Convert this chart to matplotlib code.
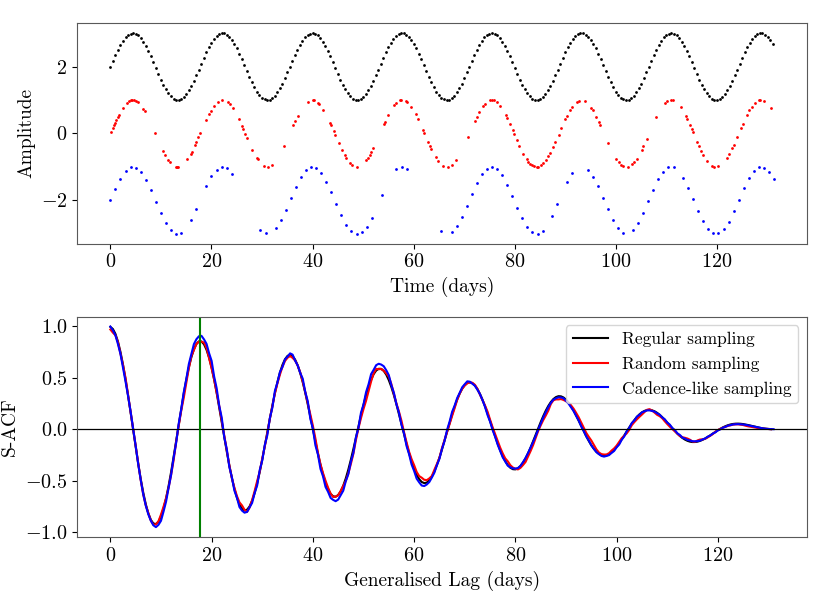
import numpy as np
import matplotlib
matplotlib.use('Agg')
import matplotlib.pyplot as plt

# --- values ---
# sinusoid seen in the top panel
period = 17.75
amplitude = 1.0
offsets = [2.0, 0.0, -2.0]  # regular, random, cadence-like

# regular sampling: every half day
regular_times = np.arange(0.0, 131.01, 0.5)

# random sampling: observation times read from the red points
random_times = np.array([
    0.16, 0.49, 0.69, 0.89, 1.16, 1.49, 1.69, 2.48, 3.34, 3.67, 4.00, 4.33,
    4.66, 4.99, 5.46, 6.52, 6.78, 8.83, 10.42, 10.81, 11.41, 11.81, 12.93,
    13.20, 13.46, 15.24, 15.90, 16.10, 16.77, 17.03, 17.43, 17.82, 18.95,
    19.54, 19.87, 20.54, 21.20, 21.99, 23.18, 23.65, 24.17, 25.36, 25.96,
    26.22, 26.69, 27.02, 28.08, 28.94, 29.13, 30.32, 31.12, 31.98, 34.42,
    36.21, 36.60, 37.07, 39.05, 40.05, 40.38, 41.04, 41.37, 42.16, 43.49,
    43.69, 44.15, 44.48, 45.21, 45.87, 46.33, 46.66, 47.45, 47.85, 48.78,
    50.63, 50.96, 51.29, 51.62, 51.95, 54.07, 54.27, 54.93, 56.05, 56.58,
    57.24, 57.57, 58.43, 58.70, 59.56, 60.42, 60.88, 61.87, 62.07, 62.86,
    63.19, 63.52, 64.38, 64.85, 65.84, 66.83, 67.49, 68.35, 70.67, 72.12,
    72.45, 72.98, 73.78, 74.11, 75.10, 75.43, 75.89, 76.42, 77.08, 78.27,
    78.54, 79.07, 79.60, 79.93, 80.39, 80.92, 81.71, 82.37, 82.70, 83.04,
    83.37, 83.83, 84.36, 84.69, 85.22, 85.68, 86.14, 86.67, 87.00, 87.53,
    88.00, 88.66, 89.19, 89.98, 90.31, 91.00, 91.32, 92.31, 92.63, 93.96,
    95.15, 95.42, 96.14, 96.61, 96.87, 98.46, 100.12, 100.58, 101.04,
    101.44, 102.43, 103.22, 103.56, 104.08, 105.08, 105.41, 106.07, 107.92,
    109.64, 110.17, 110.83, 111.36, 112.82, 113.81, 114.15, 114.61, 115.01,
    115.28, 116.14, 116.47, 116.93, 117.33, 118.12, 119.11, 119.44, 120.24,
    121.96, 122.42, 122.95, 123.28, 123.94, 124.74, 125.07, 125.93, 126.39,
    126.85, 127.51, 128.37, 128.57, 129.23, 130.69,
])

# cadence-like sampling: nightly points with gaps, read from the blue points
cadence_times = np.array([
    0, 1, 2, 3, 4, 5, 6, 7, 8, 9, 10, 11, 12, 13, 14, 16, 17, 19, 20, 21,
    22, 23, 24, 29.7, 30.7, 32.7, 33.7, 34.7, 35.7, 36.7, 37.7, 38.7, 39.7,
    40.7, 41.7, 42.7, 43.7, 44.7, 45.7, 46.7, 47.7, 48.7, 49.7, 50.7, 51.7,
    53.7, 56.6, 57.6, 58.6, 65.5, 67.5, 68.5, 69.5, 70.5, 71.5, 72.5, 73.5,
    74.5, 75.5, 76.5, 77.5, 78.5, 79.5, 80.5, 81.5, 82.5, 83.5, 84.5, 85.5,
    87.4, 88.4, 90.4, 91.4, 94.4, 95.4, 96.4, 97.4, 98.4, 99.4, 100.4, 101.4,
    103.4, 104.4, 105.4, 106.4, 107.4, 108.4, 109.4, 110.4, 111.4, 113.3,
    114.3, 115.3, 116.3, 117.3, 118.3, 119.3, 120.3, 121.3, 122.3, 123.3,
    124.3, 125.3, 126.3, 127.3, 128.3, 129.3, 130.3, 131.2,
])

series_labels = ['Regular sampling', 'Random sampling', 'Cadence-like sampling']
series_colors = ['k', 'r', 'b']
marked_lag = 17.75  # green line in the lower panel


def signal(t, offset):
    return offset + amplitude * np.sin(2 * np.pi * t / period)


def sacf(t, x, step=0.5, width=0.4):
    # kernel-weighted ACF over generalised lags
    x = x - x.mean()
    var = (x ** 2).mean()
    dt = t[None, :] - t[:, None]
    prod = x[:, None] * x[None, :]
    keep = dt >= 0
    dt, prod = dt[keep], prod[keep]
    span = t.max() - t.min()
    lags = np.arange(0.0, span, step)
    out = []
    for lag in lags:
        w = np.exp(-0.5 * ((dt - lag) / width) ** 2)
        out.append((w * prod).sum() / w.sum())
    acf = np.array(out) * (1 - lags / span) / var
    return lags, acf


plt.rcParams['font.family'] = 'serif'
plt.rcParams['font.serif'] = ['cmr10']
plt.rcParams['mathtext.fontset'] = 'cm'
plt.rcParams['axes.formatter.use_mathtext'] = True
plt.rcParams['axes.unicode_minus'] = True

fig, (ax1, ax2) = plt.subplots(2, 1, figsize=(8.3, 6.09), dpi=100)
fig.subplots_adjust(left=0.093, right=0.972, top=0.962, bottom=0.118, hspace=0.33)

all_times = [regular_times, random_times, cadence_times]

# top panel: the sampled light curves
for t, off, c in zip(all_times, offsets, series_colors):
    ax1.plot(t, signal(t, off), '.', color=c, ms=4, mew=0)
ax1.set_xlabel('Time (days)', fontsize=14)
ax1.set_ylabel('Amplitude', fontsize=14)
ax1.set_yticks([-2, 0, 2])
ax1.tick_params(labelsize=14.5)

# bottom panel: S-ACF of each sampling
for t, off, c, lab in zip(all_times, offsets, series_colors, series_labels):
    lags, acf = sacf(t, signal(t, off))
    ax2.plot(lags, acf, color=c, lw=1.5, label=lab)
ax2.axhline(0, color='k', lw=0.9)
ax2.axvline(marked_lag, color='g', lw=1.5)
ax2.set_xlabel('Generalised Lag (days)', fontsize=14)
ax2.set_ylabel('S-ACF', fontsize=14)
ax2.set_yticks([-1.0, -0.5, 0.0, 0.5, 1.0])
ax2.tick_params(labelsize=14.5)
ax2.legend(loc='upper right', fontsize=12.5)

for ax in (ax1, ax2):
    for s in ax.spines.values():
        s.set_color('0.35')

plt.savefig('out.png', dpi=100)
